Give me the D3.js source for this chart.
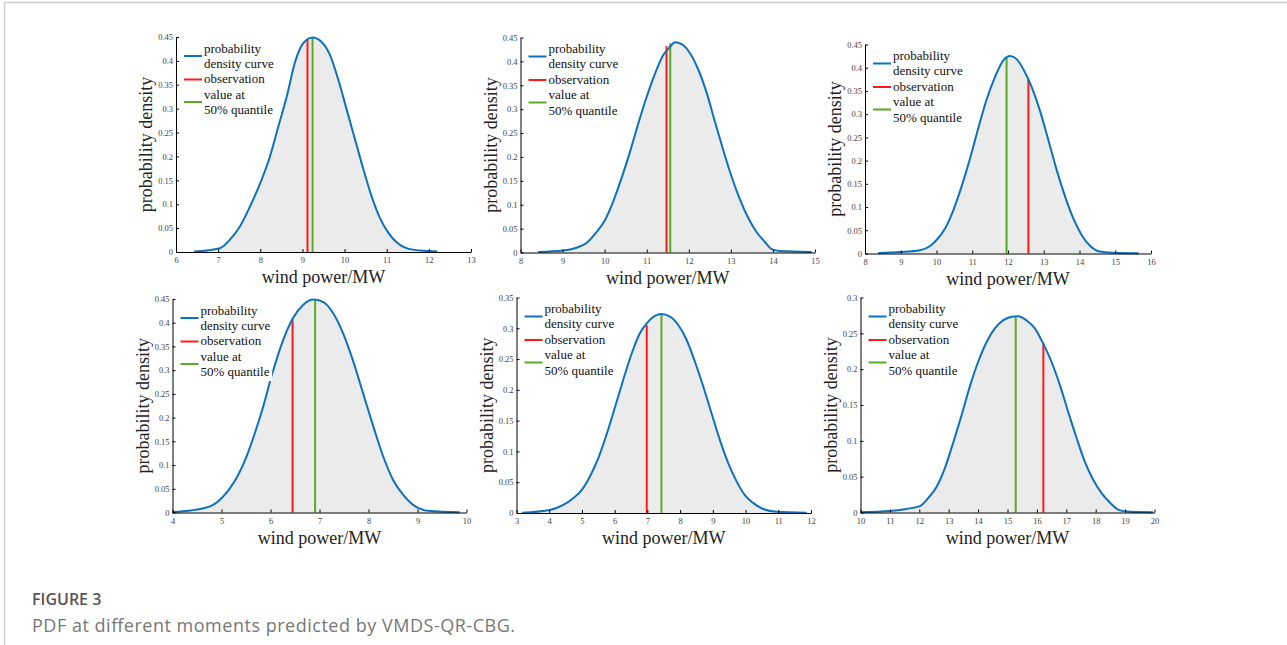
<!DOCTYPE html>
<html>
<head>
<meta charset="utf-8">
<script src="https://cdn.jsdelivr.net/npm/d3@7"></script>
<style>
    body { margin: 0; background: #fff; }
    svg { display: block; }
</style>
</head>
<body>
<svg id="chart" width="1287" height="645"></svg>
<script>
// 六个时刻的概率密度曲线
var pdf1X = [6.43, 7.04, 7.28, 7.52, 7.76, 8.03, 8.23, 8.43, 8.63, 8.82, 9.02, 9.24, 9.45, 9.65, 9.85, 10.05, 10.25, 10.45, 10.64, 10.84, 11.04, 11.24, 11.47, 11.79, 12.2];
var pdf1Y = [0.001, 0.008, 0.026, 0.054, 0.096, 0.151, 0.2, 0.263, 0.326, 0.396, 0.437, 0.449, 0.44, 0.413, 0.361, 0.298, 0.235, 0.172, 0.117, 0.071, 0.04, 0.02, 0.008, 0.003, 0.001];

var pdf2X = [8.42, 9.01, 9.33, 9.57, 9.81, 10.01, 10.2, 10.4, 10.6, 10.8, 11.0, 11.2, 11.39, 11.55, 11.67, 11.83, 12.03, 12.23, 12.43, 12.62, 12.82, 13.02, 13.22, 13.42, 13.61, 13.81, 13.97, 14.17, 14.92];
var pdf2Y = [0.001, 0.004, 0.01, 0.02, 0.043, 0.068, 0.106, 0.155, 0.21, 0.27, 0.326, 0.375, 0.413, 0.43, 0.44, 0.436, 0.417, 0.382, 0.333, 0.274, 0.214, 0.158, 0.11, 0.071, 0.043, 0.022, 0.007, 0.003, 0.001];

var pdf3X = [8.37, 8.98, 9.54, 9.82, 10.0, 10.24, 10.47, 10.7, 10.94, 11.17, 11.4, 11.64, 11.87, 12.06, 12.25, 12.44, 12.66, 12.9, 13.13, 13.36, 13.6, 13.83, 14.06, 14.3, 14.53, 14.95, 15.65];
var pdf3Y = [0.001, 0.003, 0.007, 0.016, 0.029, 0.054, 0.093, 0.144, 0.205, 0.27, 0.331, 0.381, 0.416, 0.425, 0.418, 0.395, 0.359, 0.306, 0.244, 0.18, 0.122, 0.075, 0.04, 0.016, 0.005, 0.0015, 0.0005];

var pdf4X = [4.0, 4.35, 4.59, 4.83, 5.0, 5.17, 5.34, 5.51, 5.68, 5.85, 6.02, 6.26, 6.46, 6.67, 6.87, 7.07, 7.28, 7.48, 7.69, 7.89, 8.1, 8.3, 8.5, 8.71, 8.91, 9.05, 9.25, 9.86];
var pdf4Y = [0.0007, 0.004, 0.008, 0.016, 0.03, 0.051, 0.079, 0.118, 0.167, 0.223, 0.287, 0.364, 0.41, 0.438, 0.449, 0.444, 0.42, 0.378, 0.318, 0.251, 0.181, 0.118, 0.069, 0.037, 0.016, 0.008, 0.003, 0.0007];

var pdf5X = [3.17, 4.02, 4.43, 4.73, 4.99, 5.24, 5.5, 5.75, 6.0, 6.26, 6.52, 6.77, 6.98, 7.23, 7.43, 7.69, 7.95, 8.2, 8.45, 8.71, 8.96, 9.22, 9.47, 9.73, 9.98, 10.24, 10.54, 10.95, 11.87];
var pdf5Y = [0.0005, 0.005, 0.013, 0.024, 0.037, 0.059, 0.089, 0.127, 0.17, 0.216, 0.259, 0.292, 0.308, 0.32, 0.323, 0.319, 0.305, 0.281, 0.246, 0.205, 0.162, 0.118, 0.081, 0.051, 0.029, 0.016, 0.0065, 0.002, 0.0005];

var pdf6X = [10.0, 11.0, 11.56, 12.02, 12.3, 12.59, 12.87, 13.15, 13.44, 13.72, 14.0, 14.29, 14.57, 14.85, 15.14, 15.36, 15.65, 15.93, 16.21, 16.5, 16.78, 17.06, 17.35, 17.63, 17.91, 18.2, 18.48, 18.76, 19.05, 19.95];
var pdf6Y = [0.0005, 0.002, 0.005, 0.009, 0.02, 0.036, 0.062, 0.097, 0.136, 0.176, 0.21, 0.238, 0.257, 0.268, 0.273, 0.274, 0.268, 0.257, 0.236, 0.21, 0.178, 0.141, 0.104, 0.071, 0.046, 0.027, 0.014, 0.004, 0.0014, 0.0005];

// 观测值与50%分位数（位置, 线顶高度）
var obsValue = [9.12, 11.47, 12.57, 6.45, 6.98, 16.22];
var obsTop = [0.445, 0.432, 0.375, 0.409, 0.305, 0.236];
var medValue = [9.24, 11.56, 11.96, 6.91, 7.43, 15.28];
var medTop = [0.449, 0.438, 0.423, 0.449, 0.323, 0.272];

// 坐标轴刻度
var xDomains = [[6, 13], [8, 15], [8, 16], [4, 10], [3, 12], [10, 20]];
var yMaxes = [0.45, 0.45, 0.45, 0.45, 0.35, 0.3];
var yTicks45 = [0, 0.05, 0.1, 0.15, 0.2, 0.25, 0.3, 0.35, 0.4, 0.45];
var yTicks35 = [0, 0.05, 0.1, 0.15, 0.2, 0.25, 0.3, 0.35];
var yTicks30 = [0, 0.05, 0.1, 0.15, 0.2, 0.25, 0.3];
var yTickSets = [yTicks45, yTicks45, yTicks45, yTicks45, yTicks35, yTicks30];

var legendLines = ['probability', 'density curve', 'observation', 'value at', '50% quantile'];
var xLabel = 'wind power/MW';
var yLabel = 'probability density';

// 每个子图的位置（像素）
var frames = [
    {left: 176, right: 471, top: 37, bottom: 252},
    {left: 520.5, right: 815, top: 37.5, bottom: 252.5},
    {left: 865, right: 1151, top: 44.5, bottom: 253.5},
    {left: 172.5, right: 466.5, top: 299, bottom: 512.5},
    {left: 516.5, right: 811, top: 297.5, bottom: 513},
    {left: 860.5, right: 1154.5, top: 297.5, bottom: 512.5}
];

var curvesX = [pdf1X, pdf2X, pdf3X, pdf4X, pdf5X, pdf6X];
var curvesY = [pdf1Y, pdf2Y, pdf3Y, pdf4Y, pdf5Y, pdf6Y];

var svg = d3.select('#chart');
var serif = '"Liberation Serif", "Times New Roman", serif';

// 页面边框
svg.append('line').attr('x1', 4).attr('x2', 1287).attr('y1', 2.5).attr('y2', 2.5)
    .attr('stroke', '#d0d0d0').attr('stroke-width', 1.5);
svg.append('line').attr('x1', 4.5).attr('x2', 4.5).attr('y1', 2).attr('y2', 645)
    .attr('stroke', '#d0d0d0').attr('stroke-width', 1.5);

var fmtTick = function (d) { return String(+d.toFixed(2)); };

var drawPanel = function (i) {
    var f = frames[i];
    var pts = curvesX[i].map(function (v, k) { return [v, curvesY[i][k]]; });
    var x = d3.scaleLinear().domain(xDomains[i]).range([f.left, f.right]);
    var y = d3.scaleLinear().domain([0, yMaxes[i]]).range([f.bottom, f.top]);
    var g = svg.append('g');

    // 曲线下方填充
    var area = d3.area()
        .x(function (d) { return x(d[0]); })
        .y0(y(0))
        .y1(function (d) { return y(d[1]); })
        .curve(d3.curveMonotoneX);
    g.append('path').datum(pts).attr('d', area).attr('fill', '#ebebeb');

    // 观测值 / 中位数竖线
    g.append('line')
        .attr('x1', x(obsValue[i])).attr('x2', x(obsValue[i]))
        .attr('y1', y(0)).attr('y2', y(obsTop[i]))
        .attr('stroke', '#ff1a1a').attr('stroke-width', 2);
    g.append('line')
        .attr('x1', x(medValue[i])).attr('x2', x(medValue[i]))
        .attr('y1', y(0)).attr('y2', y(medTop[i]))
        .attr('stroke', '#58ab20').attr('stroke-width', 2);

    var line = d3.line()
        .x(function (d) { return x(d[0]); })
        .y(function (d) { return y(d[1]); })
        .curve(d3.curveMonotoneX);
    g.append('path').datum(pts).attr('d', line)
        .attr('fill', 'none').attr('stroke', '#0c72bd').attr('stroke-width', 2);

    // 坐标轴
    var xt = d3.range(xDomains[i][0], xDomains[i][1] + 1);
    var xAxis = d3.axisBottom(x).tickValues(xt).tickFormat(d3.format('d'))
        .tickSizeInner(-3).tickSizeOuter(0).tickPadding(5);
    var yAxis = d3.axisLeft(y).tickValues(yTickSets[i]).tickFormat(fmtTick)
        .tickSizeInner(-3).tickSizeOuter(0).tickPadding(3);
    var ax = g.append('g').attr('transform', 'translate(0,' + f.bottom + ')').call(xAxis);
    var ay = g.append('g').attr('transform', 'translate(' + f.left + ',0)').call(yAxis);
    [ax, ay].forEach(function (a) {
        a.select('.domain').attr('stroke', '#000');
        a.selectAll('.tick line').attr('stroke', '#000');
        a.selectAll('.tick text').attr('fill', '#444')
            .style('font-family', serif).style('font-size', '8.5px');
    });

    // 轴标题
    g.append('text')
        .attr('x', (f.left + f.right) / 2).attr('y', f.bottom + 31)
        .attr('text-anchor', 'middle').attr('fill', '#222')
        .style('font-family', serif).style('font-size', '18px')
        .text(xLabel);
    g.append('text')
        .attr('transform', 'translate(' + (f.left - 24) + ',' + ((f.top + f.bottom) / 2) + ') rotate(-90)')
        .attr('text-anchor', 'middle').attr('fill', '#222')
        .style('font-family', serif).style('font-size', '18px')
        .text(yLabel);

    // 图例
    var lg = g.append('g').attr('transform', 'translate(' + f.left + ',' + f.top + ')');
    var bg = lg.append('rect').attr('fill', '#fff');
    var baselines = [15.5, 30.5, 46, 61.5, 77];
    var texts = lg.selectAll('text').data(legendLines).enter().append('text')
        .attr('x', 28).attr('y', function (d, k) { return baselines[k]; })
        .attr('fill', '#111')
        .style('font-family', serif).style('font-size', '13px')
        .text(function (d) { return d; });
    var maxW = d3.max(texts.nodes(), function (n) { return n.getComputedTextLength(); });
    bg.attr('x', 4).attr('y', 1).attr('width', 28 + maxW + 2 - 4).attr('height', 81);
    var swatch = [[19, '#0c72bd'], [42.5, '#ff1a1a'], [65, '#58ab20']];
    swatch.forEach(function (s) {
        lg.append('line').attr('x1', 8).attr('x2', 26).attr('y1', s[0]).attr('y2', s[0])
            .attr('stroke', s[1]).attr('stroke-width', 2);
    });
};

d3.range(6).forEach(drawPanel);

// 图注
svg.append('text').attr('x', 32).attr('y', 605)
    .attr('fill', '#555').style('font-family', '"Open Sans", sans-serif')
    .style('font-size', '16px').style('font-weight', 600)
    .text('FIGURE 3');
svg.append('text').attr('x', 32).attr('y', 632)
    .attr('fill', '#777').style('font-family', '"Open Sans", sans-serif')
    .style('font-size', '18px')
    .attr('textLength', 483).attr('lengthAdjust', 'spacing')
    .text('PDF at different moments predicted by VMDS-QR-CBG.');
</script>
</body>
</html>
